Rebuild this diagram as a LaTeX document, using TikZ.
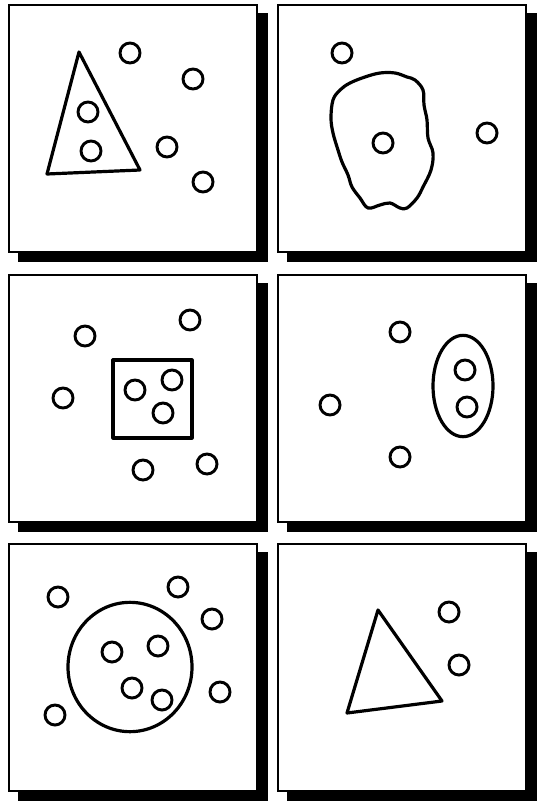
\documentclass[tikz,border=0pt]{standalone}
\begin{document}
\begin{tikzpicture}[x=0.75pt,y=-0.75pt,
  shadowbox/.style={fill=black},
  frame/.style={draw=black,fill=white,line width=1.2pt},
  dot/.style={line width=2.2pt},
  outline/.style={line width=2.4pt,line join=round}]
\useasboundingbox (0,0) rectangle (539,802);
% panels with drop shadows
\foreach \x/\y in {9/5, 278/5, 9/275, 278/275, 9/544, 278/544}{
  \fill[shadowbox] (\x+9,\y+8) rectangle (\x+259,\y+257);
  \draw[frame] (\x,\y) rectangle (\x+248,\y+247);
}
% panel 1: triangle
\draw[outline] (79,52) -- (47,174) -- (140,170) -- cycle;
\foreach \p in {(130,53),(193,79),(88,112),(91,151),(167,147),(203,182)}
  \draw[dot] \p circle[radius=7.5pt];
% panel 2: blob
\draw[outline] plot[smooth cycle,tension=0.6] coordinates {
  (380,73) (365,77) (350,83) (340,90) (333,100) (331,118) (333,133) (338,150)
  (342,162) (348,175) (352,187) (360,198) (368,208) (380,205) (390,203) (400,208) (407,208)
  (417,198) (423,187) (431,170) (433,153) (428,138) (427,120) (424,105) (423,90) (415,80) (407,77) (395,73)};
\foreach \p in {(342,53),(383,143),(487,133)}
  \draw[dot] \p circle[radius=7.5pt];
% panel 3: square
\draw[outline] (113,360) rectangle (192,438);
\foreach \p in {(85,336),(190,320),(63,398),(135,390),(172,380),(163,413),(143,470),(207,464)}
  \draw[dot] \p circle[radius=7.5pt];
% panel 4: ellipse
\draw[outline] (463,386) ellipse[x radius=22.5pt,y radius=38pt];
\foreach \p in {(400,332),(330,405),(400,457),(465,370),(467,407)}
  \draw[dot] \p circle[radius=7.5pt];
% panel 5: big circle
\draw[outline] (130,667) ellipse[x radius=46.5pt,y radius=48.5pt];
\foreach \p in {(58,597),(178,587),(212,619),(112,652),(158,646),(132,688),(162,700),(220,692),(55,715)}
  \draw[dot] \p circle[radius=7.5pt];
% panel 6: triangle
\draw[outline] (378,610) -- (347,713) -- (442,701) -- cycle;
\foreach \p in {(449,612),(459,665)}
  \draw[dot] \p circle[radius=7.5pt];
\end{tikzpicture}
\end{document}
